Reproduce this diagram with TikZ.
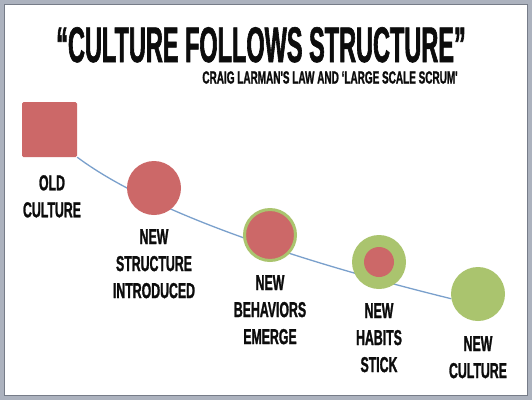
\documentclass[tikz,border=0pt]{standalone}
\usepackage{fontspec}
\setmainfont{Liberation Sans}
\newfontfamily\titlefont{Liberation Sans}[FakeStretch=0.47,FakeBold=1.2]
\newfontfamily\labelfont{Liberation Sans}[FakeStretch=0.57,FakeBold=1.2]
\usetikzlibrary{positioning,backgrounds}
\definecolor{ink}{RGB}{12,12,12}
\definecolor{oldred}{RGB}{204,104,104}
\definecolor{newgreen}{RGB}{170,196,110}
\definecolor{pathblue}{RGB}{122,160,204}
\definecolor{frameg}{RGB}{172,178,190}
\definecolor{framed}{RGB}{118,124,136}
\tikzset{
  oldsq/.style={rectangle,fill=oldred,minimum size=55pt,inner sep=0pt,rounded corners=1.5pt},
  redball/.style={circle,fill=oldred,minimum size=54pt,inner sep=0pt},
  mixball/.style={circle,fill=oldred,draw=newgreen,line width=3pt,minimum size=51pt,inner sep=0pt},
  greenball/.style={circle,fill=newgreen,minimum size=54pt,inner sep=0pt},
  core/.style={circle,fill=oldred,minimum size=30pt,inner sep=0pt},
  heading/.style={anchor=base,inner sep=0pt,text=ink,font=\titlefont\bfseries\fontsize{50}{50}\selectfont},
  subhead/.style={anchor=base,inner sep=0pt,text=ink,font=\labelfont\bfseries\fontsize{17.5}{20}\selectfont},
  lbl/.style={align=center,anchor=north,inner sep=0pt,text=ink,font=\labelfont\bfseries\fontsize{21.6}{27}\selectfont},
}

\begin{document}
\begin{tikzpicture}[x=1pt,y=-1pt]
\useasboundingbox (0,0) rectangle (532,400);
% titles
\node[heading] (head) at (261,62) {“CULTURE FOLLOWS STRUCTURE”};
\node[subhead] (sub) at (330,83.5) {CRAIG LARMAN'S LAW AND ‘LARGE SCALE SCRUM'};
% stages along the path
\node[oldsq] (old) at (49.5,129.5) {};
\node[redball] (struct) at (154,188) {};
\node[mixball] (behav) at (270,235) {};
\node[greenball] (habit) at (379,262) {};
\node[core] (habitcore) at (habit) {};
\node[greenball] (cult) at (478,294) {};
% captions
\node[lbl] (oldtxt) at (52,175) {OLD\\CULTURE};
\node[lbl] (structtxt) at (154,229) {NEW\\STRUCTURE\\INTRODUCED};
\node[lbl] (behavtxt) at (270,275) {NEW\\BEHAVIORS\\EMERGE};
\node[lbl] (habittxt) at (379,303) {NEW\\HABITS\\STICK};
\node[lbl] (culttxt) at (478,336) {NEW\\CULTURE};
% frame and curve behind
\begin{scope}[on background layer]
  \fill[frameg] (0,0) rectangle (532,400);
  \filldraw[fill=white,draw=framed,line width=0.8pt] (4,4) rectangle (527,395);
  \draw[pathblue,line width=1.3pt] (old.south east)
    .. controls (160,219) and (330,269) .. (cult.190);
\end{scope}
\end{tikzpicture}
\end{document}
